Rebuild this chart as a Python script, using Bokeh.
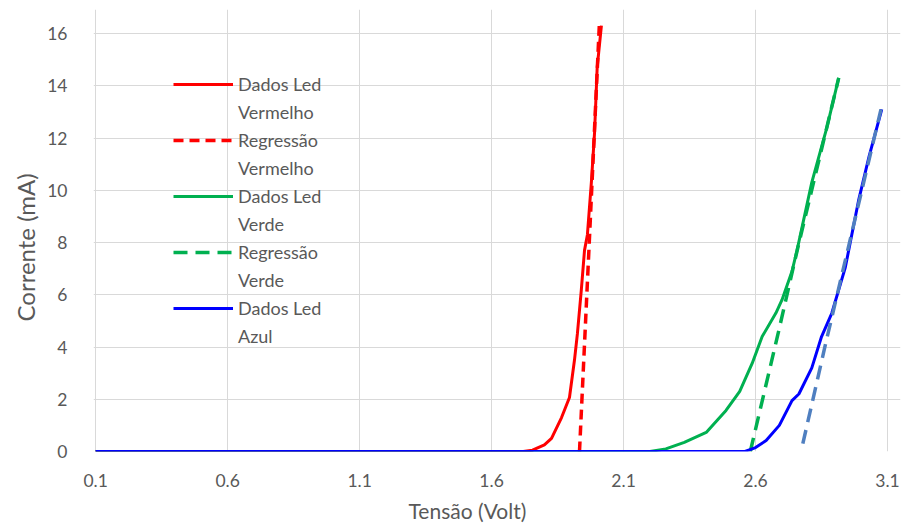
from bokeh.plotting import figure
from bokeh.models import Range1d, FixedTicker, Legend, LegendItem, Title
from bokeh.embed import file_html
from bokeh.resources import INLINE

# ---- data ----
x_ticks = [0.1, 0.6, 1.1, 1.6, 2.1, 2.6, 3.1]
y_ticks = [0, 2, 4, 6, 8, 10, 12, 14, 16]

red_v = [0.1, 1.72, 1.755, 1.80, 1.827, 1.865, 1.895, 1.914, 1.925, 1.94, 1.952, 1.963, 1.978, 1.99, 2.0, 2.016]
red_i = [0.0, 0.0, 0.05, 0.25, 0.5, 1.3, 2.07, 3.5, 4.5, 6.2, 7.7, 8.3, 10.3, 12.2, 14.7, 16.3]
red_reg_v = [1.933, 1.97, 2.008]
red_reg_i = [0.0, 8.0, 16.3]

green_v = [0.1, 2.20, 2.26, 2.33, 2.413, 2.488, 2.54, 2.587, 2.625, 2.677, 2.70, 2.738, 2.757, 2.813, 2.87, 2.915]
green_i = [0.0, 0.0, 0.1, 0.35, 0.73, 1.57, 2.3, 3.37, 4.4, 5.3, 5.8, 6.9, 7.7, 10.3, 12.4, 14.3]
green_reg_v = [2.58, 2.685, 2.76, 2.915]
green_reg_i = [0.0, 4.5, 7.8, 14.3]

blue_v = [0.1, 2.56, 2.60, 2.64, 2.69, 2.738, 2.764, 2.813, 2.85, 2.889, 2.94, 2.99, 3.03, 3.078]
blue_i = [0.0, 0.0, 0.15, 0.42, 1.0, 1.95, 2.2, 3.2, 4.4, 5.3, 7.05, 9.6, 11.3, 13.1]
blue_reg_v = [2.779, 2.867, 3.075]
blue_reg_i = [0.3, 4.2, 13.1]

x_title = "Tensão (Volt)"
y_title = "Corrente (mA)"

FONT = "Lato"
TXT = "#595959"
GRID = "#D9D9D9"

p = figure(width=905, height=530, output_backend="svg", toolbar_location=None,
           x_range=Range1d(0.092, 3.149), y_range=Range1d(0, 16.92),
           min_border_left=93, min_border_right=5, min_border_top=9, min_border_bottom=79)
p.outline_line_color = None

for ax in (p.xaxis[0], p.yaxis[0]):
    ax.axis_line_color = None
    ax.major_tick_line_color = None
    ax.minor_tick_line_color = None
    ax.major_label_text_font = FONT
    ax.major_label_text_font_size = "17.5px"
    ax.major_label_text_color = TXT

p.xaxis.ticker = FixedTicker(ticks=x_ticks)
p.xaxis.major_label_overrides = {t: f"{t:.1f}" for t in x_ticks}
p.yaxis.ticker = FixedTicker(ticks=y_ticks)
p.xaxis.major_label_standoff = 16
p.yaxis.major_label_standoff = 20

p.xgrid.ticker = FixedTicker(ticks=x_ticks)
p.ygrid.ticker = FixedTicker(ticks=y_ticks)
p.grid.grid_line_color = GRID
p.grid.grid_line_width = 1

# axis titles, off-centre like the reference
p.add_layout(Title(text=x_title, align="left", offset=315, standoff=13,
                   text_font=FONT, text_font_size="21px", text_font_style="normal",
                   text_color=TXT), "below")
p.add_layout(Title(text=y_title, align="left", offset=130, standoff=10,
                   text_font=FONT, text_font_size="24px", text_font_style="normal",
                   text_color=TXT), "left")

r1 = p.line(red_v, red_i, line_color="#FF0000", line_width=3)
r2 = p.line(red_reg_v, red_reg_i, line_color="#FF0000", line_width=3.5, line_dash="10 6")
g1 = p.line(green_v, green_i, line_color="#00B050", line_width=3)
g2 = p.line(green_reg_v, green_reg_i, line_color="#00B050", line_width=3.5, line_dash="14 8")
b1 = p.line(blue_v, blue_i, line_color="#0000FF", line_width=3)
b2 = p.line(blue_reg_v, blue_reg_i, line_color="#4F7FC0", line_width=3.5, line_dash="14 8")

blank = p.line([], [], line_alpha=0)

items = [
    LegendItem(label="Dados Led", renderers=[r1]),
    LegendItem(label="Vermelho", renderers=[blank]),
    LegendItem(label="Regressão", renderers=[r2]),
    LegendItem(label="Vermelho", renderers=[blank]),
    LegendItem(label="Dados Led", renderers=[g1]),
    LegendItem(label="Verde", renderers=[blank]),
    LegendItem(label="Regressão", renderers=[g2]),
    LegendItem(label="Verde", renderers=[blank]),
    LegendItem(label="Dados Led", renderers=[b1]),
    LegendItem(label="Azul", renderers=[blank]),
]
legend = Legend(items=items, location=(80, 101), orientation="vertical",
                glyph_width=60, glyph_height=28, label_height=28, label_standoff=5,
                spacing=0, padding=0, margin=0,
                label_text_font=FONT, label_text_font_size="18px", label_text_color=TXT,
                border_line_color=None, background_fill_alpha=0)
p.add_layout(legend)

open("out.html", "w").write(file_html(p, INLINE))
